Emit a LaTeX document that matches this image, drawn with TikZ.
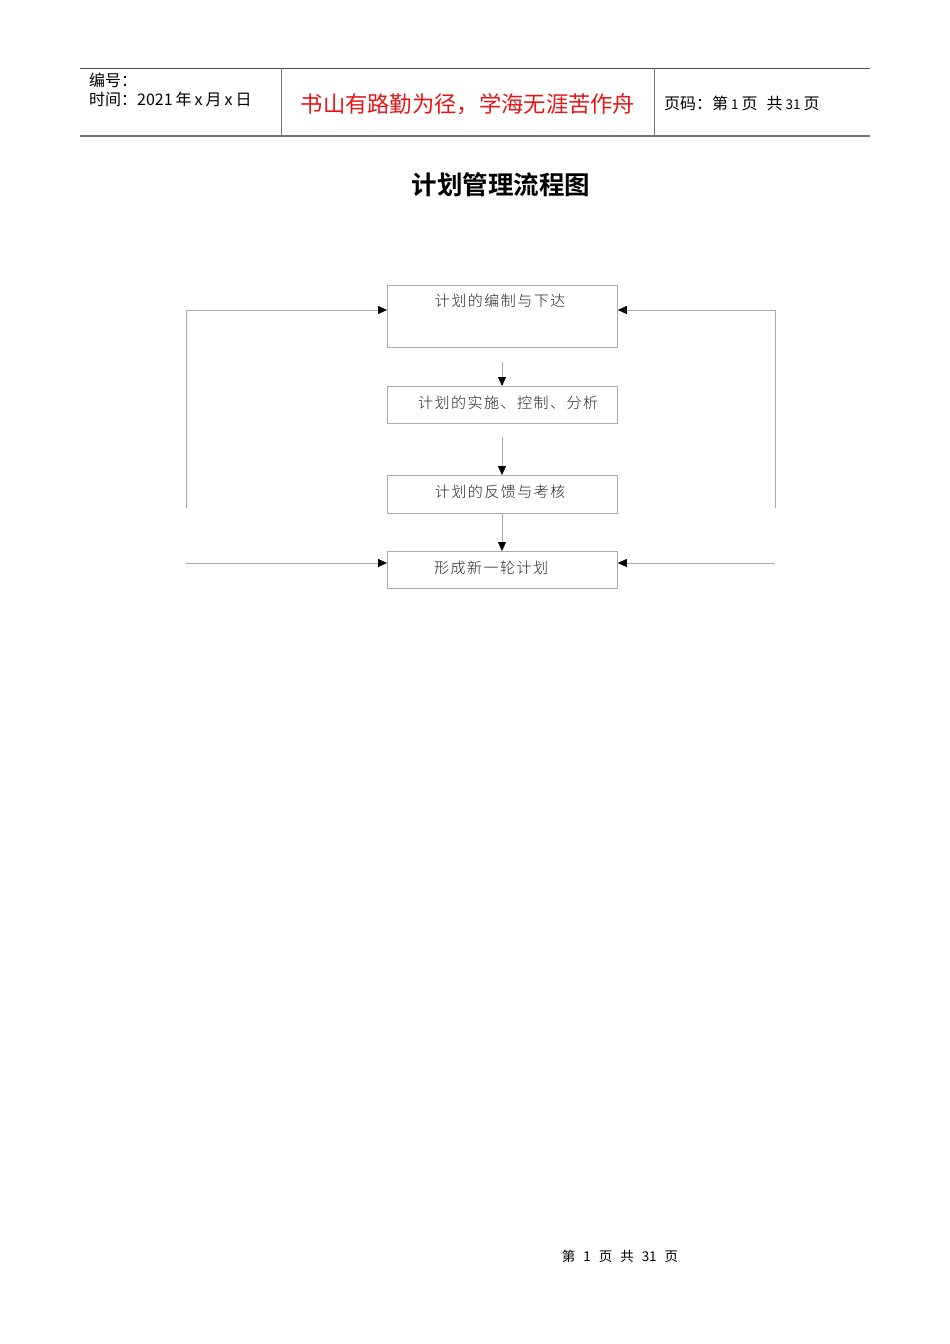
\documentclass[tikz,border=0pt]{standalone}
\usepackage{fontspec}
\setmainfont{Liberation Sans}
\newfontfamily\cjk{Noto Sans CJK SC}
\newfontfamily\cjkbold{Noto Sans CJK SC Bold}
\newfontfamily\cjksp[LetterSpace=10]{Noto Sans CJK SC Light}
\usetikzlibrary{arrows.meta}
\definecolor{linegray}{RGB}{170,170,170}
\definecolor{redtxt}{RGB}{230,20,20}
\tikzset{
  x=1pt,y=-1pt,
  flowbox/.style={draw=linegray,line width=0.8pt,minimum width=230pt,anchor=north west,inner sep=0pt},
  boxtext/.style={font=\cjksp\fontsize{15}{17}\selectfont,text=black!85,inner sep=0pt},
  conn/.style={draw=linegray,line width=0.8pt,-{Triangle[black,length=9pt,width=8pt]}},
  hdr/.style={font=\cjk\fontsize{16}{18}\selectfont,anchor=west,inner sep=0pt}
}
\newcommand{\smallnum}[1]{{\fontsize{13.5}{15}\selectfont #1}}
\begin{document}
\begin{tikzpicture}
\useasboundingbox (0,0) rectangle (950,1344);
% header
\draw[black!70,line width=0.8pt] (80,68) -- (870,68);
\draw[black!55,line width=1.6pt] (80,136) -- (870,136);
\draw[black!55,line width=0.8pt] (281,68) -- (281,136);
\draw[black!55,line width=0.8pt] (654,68) -- (654,136);
\node[hdr] (bh) at (89,80) {编号：};
\node[hdr] (sj) at (89,99) {时间：2021\hspace{3pt}年\hspace{3pt}x\hspace{3pt}月\hspace{3pt}x\hspace{3pt}日};
\node[font=\cjk\fontsize{22.3}{24}\selectfont,text=redtxt,inner sep=0pt] (motto) at (468,104) {书山有路勤为径，学海无涯苦作舟};
\node[hdr] (ym) at (664,103) {页码：第\hspace{3pt}\smallnum{1}\hspace{3pt}页\hspace{9pt}共\hspace{3pt}\smallnum{31}\hspace{3pt}页};
% title
\node[font=\cjkbold\fontsize{25.5}{27}\selectfont,inner sep=0pt] (title) at (501,185) {计划管理流程图};
% boxes
\node[flowbox,minimum height=62pt] (b1) at (387,285) {};
\node[boxtext] (t1) at (500,301) {计划的编制与下达};
\node[flowbox,minimum height=37pt] (b2) at (387,386) {};
\node[boxtext] (t2) at (508,403) {计划的实施、控制、分析};
\node[flowbox,minimum height=38pt] (b3) at (387,475) {};
\node[boxtext] (t3) at (500,492) {计划的反馈与考核};
\node[flowbox,minimum height=37pt] (b4) at (387,551) {};
\node[boxtext] (t4) at (491,568) {形成新一轮计划};
% vertical arrows
\coordinate (a1) at (502,362);
\coordinate (a2) at (502,437);
\draw[conn] (a1) -- (b2.north -| a1);
\draw[conn] (a2) -- (b3.north -| a2);
\draw[conn] (b3.south -| a1) -- (b4.north -| a1);
% loops
\coordinate (l1) at (186,508);
\coordinate (r1) at (775,508);
\coordinate (l2) at (186,563);
\coordinate (r2) at (775,563);
\draw[conn] (l1) -- (186,310) -- (b1.west |- 0,310);
\draw[conn] (r1) -- (775,310) -- (b1.east |- 0,310);
\draw[conn] (l2) -- (b4.west |- l2);
\draw[conn] (r2) -- (b4.east |- r2);
% footer
\node[font=\cjk\fontsize{13.5}{15}\selectfont,inner sep=0pt] (foot) at (620,1256) {第\hspace{8pt}1\hspace{8pt}页\hspace{8pt}共\hspace{8pt}31\hspace{8pt}页};
\end{tikzpicture}
\end{document}
